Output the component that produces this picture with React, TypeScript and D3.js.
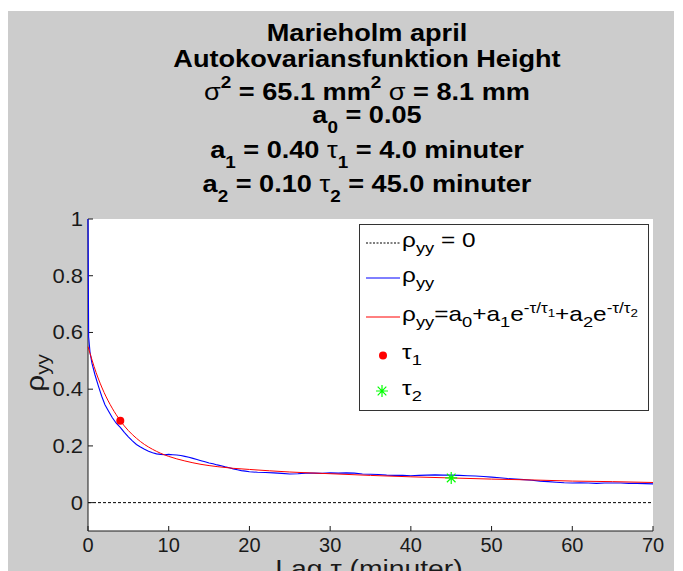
import React from "react";
import * as d3 from "d3";

// measured autocorrelation (blue)
const lagBlue = [0, 0.08, 0.25, 0.5, 0.87, 1.3, 1.7, 2.1, 2.5, 3.0, 3.5, 4.0, 4.5, 5.0, 5.5, 6.0, 6.5, 7.0, 7.5, 8.0, 8.5, 9.0, 9.5, 10, 10.5, 11, 11.5, 12, 12.5, 13, 13.5, 14, 14.5, 15, 15.5, 16, 16.5, 17, 17.5, 18, 18.5, 19, 19.5, 20, 21, 22, 23, 24, 25, 26, 27, 28, 29, 30, 31, 32, 33, 34, 35, 36, 37, 38, 39, 40, 41, 42, 43, 44, 45, 46, 47, 48, 49, 50, 51, 52, 53, 54, 55, 56, 57, 58, 59, 60, 61, 62, 63, 64, 65, 66, 67, 68, 69, 70];
const rhoBlue = [1.0, 0.585, 0.53, 0.49, 0.45, 0.41, 0.375, 0.345, 0.325, 0.3, 0.28, 0.265, 0.248, 0.232, 0.218, 0.205, 0.196, 0.188, 0.181, 0.176, 0.172, 0.17, 0.169, 0.17, 0.169, 0.168, 0.166, 0.163, 0.16, 0.156, 0.152, 0.148, 0.144, 0.14, 0.137, 0.133, 0.13, 0.126, 0.123, 0.119, 0.116, 0.113, 0.111, 0.109, 0.107, 0.106, 0.105, 0.103, 0.101, 0.102, 0.104, 0.104, 0.103, 0.105, 0.104, 0.105, 0.104, 0.101, 0.1, 0.099, 0.097, 0.096, 0.096, 0.095, 0.096, 0.097, 0.098, 0.097, 0.097, 0.096, 0.095, 0.094, 0.092, 0.09, 0.088, 0.085, 0.083, 0.081, 0.079, 0.076, 0.074, 0.072, 0.07, 0.069, 0.07, 0.069, 0.068, 0.069, 0.069, 0.069, 0.068, 0.068, 0.067, 0.066];

// fitted curve (red)
const lagFit = [0, 1, 2, 3, 4, 5, 6, 7, 8, 9, 10, 12, 14, 16, 18, 20, 25, 30, 35, 40, 45, 50, 55, 60, 65, 70];
const rhoFit = [0.55, 0.459, 0.388, 0.333, 0.289, 0.254, 0.227, 0.205, 0.188, 0.174, 0.163, 0.147, 0.135, 0.127, 0.121, 0.117, 0.108, 0.102, 0.096, 0.091, 0.087, 0.083, 0.08, 0.076, 0.074, 0.071];

const tau1Point = [4, 0.289];
const tau2Point = [45, 0.087];

const xTicks = [0, 10, 20, 30, 40, 50, 60, 70];
const yTicks = [0, 0.2, 0.4, 0.6, 0.8, 1];

type Seg = { t: string; s?: number; f?: number; w?: string };

const Rich = ({ segs, size, weight, ...rest }: any) => {
  let prev = 0;
  return (
    <text {...rest} fontSize={size} fontWeight={weight}>
      {segs.map((g: Seg, i: number) => {
        const sh = g.s || 0;
        const dy = sh - prev;
        prev = sh;
        return (
          <tspan key={i} dy={dy} fontSize={g.f || size} fontWeight={g.w || weight}>
            {g.t}
          </tspan>
        );
      })}
    </text>
  );
};

const titleLines: Seg[][] = [
  [{ t: "Marieholm april" }],
  [{ t: "Autokovariansfunktion Height" }],
  [{ t: "σ", w: "normal" }, { t: "2", s: -12, f: 16 }, { t: " = 65.1 mm" }, { t: "2", s: -12, f: 16 }, { t: " " }, { t: "σ", w: "normal" }, { t: " = 8.1 mm" }],
  [{ t: "a" }, { t: "0", s: 10, f: 16 }, { t: " = 0.05" }],
  [{ t: "a" }, { t: "1", s: 10, f: 16 }, { t: " = 0.40 " }, { t: "τ", w: "normal" }, { t: "1", s: 10, f: 16 }, { t: " = 4.0 minuter" }],
  [{ t: "a" }, { t: "2", s: 10, f: 16 }, { t: " = 0.10 " }, { t: "τ", w: "normal" }, { t: "2", s: 10, f: 16 }, { t: " = 45.0 minuter" }],
];
const titleBaselines = [41, 67, 100, 123, 158, 192];

const legendSegs: Seg[][] = [
  [{ t: "ρ" }, { t: "yy", s: 6, f: 15 }, { t: " = 0" }],
  [{ t: "ρ" }, { t: "yy", s: 6, f: 15 }],
  [{ t: "ρ" }, { t: "yy", s: 6, f: 15 }, { t: "=a" }, { t: "0", s: 6, f: 15 }, { t: "+a" }, { t: "1", s: 6, f: 15 }, { t: "e" }, { t: "-τ/τ", s: -8, f: 14 }, { t: "1", s: -4, f: 11 }, { t: "+a" }, { t: "2", s: 6, f: 15 }, { t: "e" }, { t: "-τ/τ", s: -8, f: 14 }, { t: "2", s: -4, f: 11 }],
  [{ t: "τ" }, { t: "1", s: 6, f: 15 }],
  [{ t: "τ" }, { t: "2", s: 6, f: 15 }],
];
const legendBaselines = [247, 282, 321, 359, 395];

const starPath = (cx: number, cy: number, r: number) => {
  const d = r * 0.72;
  return `M${cx - r},${cy}H${cx + r}M${cx},${cy - r}V${cy + r}M${cx - d},${cy - d}L${cx + d},${cy + d}M${cx - d},${cy + d}L${cx + d},${cy - d}`;
};

export default function App() {
  const W = 683, H = 571;
  const x = d3.scaleLinear().domain([0, 70]).range([88, 653]);
  const y = d3.scaleLinear().domain([-0.1, 1]).range([531, 219]);

  const blueLine = d3.line<number>().x((d, i) => x(lagBlue[i])).y((d) => y(d));
  const fitLine = d3.line<number>().x((d, i) => x(lagFit[i])).y((d) => y(d)).curve(d3.curveMonotoneX);

  const font = "'Liberation Sans', Arial, Helvetica, sans-serif";
  const ink = "#1a1a1a";

  return (
    <svg width={W} height={H} style={{ position: "absolute", left: 0, top: 0, display: "block" }} fontFamily={font}>
      <rect x={0} y={0} width={W} height={H} fill="#fff" />
      <rect x={8} y={11} width={666} height={H - 11} fill="#cccccc" />
      <rect x={x(0)} y={y(1)} width={x(70) - x(0)} height={y(-0.1) - y(1)} fill="#fff" />

      {/* zero reference */}
      <line x1={x(0)} x2={x(70)} y1={y(0)} y2={y(0)} stroke="#000" strokeWidth={1} strokeDasharray="3,2" />

      {/* axes */}
      <line x1={x(0)} x2={x(0)} y1={y(1)} y2={y(-0.1)} stroke={ink} />
      <line x1={x(0)} x2={x(70)} y1={y(-0.1)} y2={y(-0.1)} stroke={ink} />
      {xTicks.map((t) => (
        <g key={"x" + t}>
          <line x1={x(t)} x2={x(t)} y1={y(-0.1)} y2={y(-0.1) - 5} stroke={ink} />
          <text x={x(t)} y={552} textAnchor="middle" fontSize={20} fill={ink}>{t}</text>
        </g>
      ))}
      {yTicks.map((t) => (
        <g key={"y" + t}>
          <line x1={x(0)} x2={x(0) + 5} y1={y(t)} y2={y(t)} stroke={ink} />
          <text transform={`translate(83,${y(t) + 7}) scale(1.1,1)`} textAnchor="end" fontSize={20} fill={ink}>{d3.format("~g")(t)}</text>
        </g>
      ))}

      {/* data */}
      <path d={blueLine(rhoBlue) || ""} fill="none" stroke="#0000ff" strokeWidth={1.1} />
      <path d={fitLine(rhoFit) || ""} fill="none" stroke="#ff0000" strokeWidth={1} />
      <circle cx={x(tau1Point[0])} cy={y(tau1Point[1])} r={4} fill="#ff0000" />
      <path d={starPath(x(tau2Point[0]), y(tau2Point[1]), 6)} stroke="#00ff00" strokeWidth={1.2} fill="none" />

      {/* legend */}
      <rect x={359.5} y={224.5} width={289} height={186} fill="#fff" stroke="#333" strokeWidth={1} />
      <line x1={366} x2={400} y1={243} y2={243} stroke="#000" strokeDasharray="2,1.5" />
      <line x1={366} x2={400} y1={278} y2={278} stroke="#0000ff" />
      <line x1={366} x2={400} y1={317} y2={317} stroke="#ff0000" />
      <circle cx={383} cy={355.5} r={4} fill="#ff0000" />
      <path d={starPath(382, 391, 6)} stroke="#00ff00" strokeWidth={1.2} fill="none" />
      {legendSegs.map((segs, i) => (
        <Rich key={"l" + i} segs={segs} size={20} weight="normal" transform={`translate(402,${legendBaselines[i]}) scale(1.22,1)`} fill="#000" />
      ))}

      {/* title */}
      {titleLines.map((segs, i) => (
        <Rich key={"t" + i} segs={segs} size={23} weight="bold" transform={`translate(367,${titleBaselines[i]}) scale(1.18,1)`} textAnchor="middle" fill="#000" />
      ))}

      {/* axis labels */}
      <text transform="translate(369,577) scale(1.18,1)" textAnchor="middle" fontSize={24} fill={ink}>Lag τ (minuter)</text>
      <Rich segs={[{ t: "ρ" }, { t: "yy", s: 5, f: 18 }]} size={26} weight="normal" transform="translate(44,373) rotate(-90) scale(1.15,1)" textAnchor="middle" fill={ink} />
    </svg>
  );
}
